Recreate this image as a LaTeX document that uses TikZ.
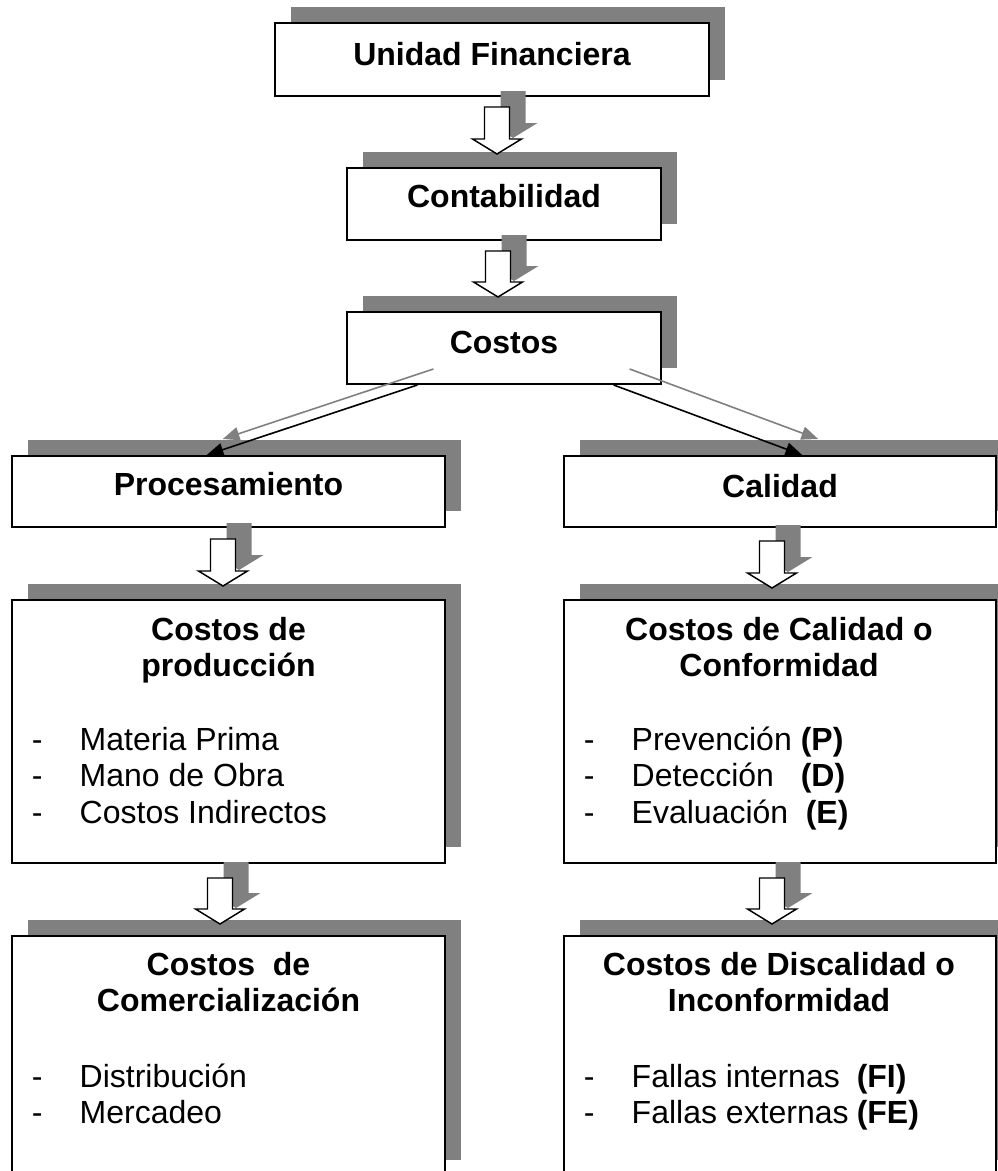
\documentclass[tikz,border=0pt]{standalone}
\usepackage{fontspec}
\setmainfont{Liberation Sans}
\usetikzlibrary{calc,shadows,arrows.meta}
\definecolor{shadowgray}{RGB}{128,128,128}
% hollow block arrow pointing down: #1 style, #2 top of shaft, #3 tip,
% #4 offset of the whole arrow (used for its shadow)
\newcommand\blockarrow[4]{%
  \path[#1] let \p1=($(#2)+#4$), \p2=($(#3)+#4$) in
    (\x1-9.375pt,\y1) -- (\x1+9.375pt,\y1) -- (\x1+9.375pt,\y2+11.25pt)
    -- (\x1+18.375pt,\y2+11.25pt) -- (\x1,\y2) -- (\x1-18.375pt,\y2+11.25pt)
    -- (\x1-9.375pt,\y2+11.25pt) -- cycle;}
\begin{document}
\begin{tikzpicture}[x=0.75pt,y=-0.75pt,
  box/.style={draw=black, line width=1.5pt, fill=white, inner sep=0pt,
    drop shadow={shadow xshift=12pt, shadow yshift=12pt, opacity=1, fill=shadowgray}},
  wideL/.style={minimum width=324.75pt},
  wideR/.style={minimum width=324pt},
  lbl/.style={inner sep=0pt, font=\fontsize{24}{27.5}\selectfont},
  title/.style={inner sep=0pt, font=\fontsize{24}{27.5}\selectfont\bfseries},
  barrow/.style={draw=black, fill=white, line width=1.1pt, line join=miter},
  barrowshadow/.style={fill=shadowgray},
  link/.style={draw=black, line width=1.2pt, -{Triangle[length=12.5pt,width=10pt]}},
  linkshadow/.style={draw=shadowgray, line width=1.2pt, -{Triangle[length=12.5pt,width=10pt]}}]
\clip (0,0) rectangle (998,1171);
\fill[white] (0,0) rectangle (998,1171);

% boxes
\node[box, minimum width=325.5pt, minimum height=54.75pt] (unidad) at (492,59.5) {};
\node[box, minimum width=235.5pt, minimum height=54pt] (contab) at (504,204) {};
\node[box, minimum width=235.5pt, minimum height=54pt] (costos) at (504,348) {};
\node[box, wideL, minimum height=53.25pt] (proc) at (228.5,491.5) {};
\node[box, wideR, minimum height=53.25pt] (calidad) at (780,491.5) {};
\node[box, wideL, minimum height=197.25pt] (prod) at (228.5,731.5) {};
\node[box, wideR, minimum height=197.25pt] (conf) at (780,731.5) {};
\node[box, wideL, minimum height=180pt] (comer) at (228.5,1056) {};
\node[box, wideR, minimum height=180pt] (discal) at (780,1056) {};

% block arrow end points
\coordinate (a1t) at ($(unidad.south)+(5,10)$);
\coordinate (a1b) at ($(a1t |- contab.north)+(0,-13)$);
\coordinate (a2t) at ($(contab.south)+(-6,10)$);
\coordinate (a2b) at ($(a2t |- costos.north)+(0,-14)$);
\coordinate (a3t) at ($(proc.south)+(-5.5,11)$);
\coordinate (a3b) at ($(a3t |- prod.north)+(0,-13)$);
\coordinate (a4t) at ($(prod.south)+(-8.5,14)$);
\coordinate (a4b) at ($(a4t |- comer.north)+(0,-11)$);
\coordinate (a5t) at ($(calidad.south)+(-8,13)$);
\coordinate (a5b) at ($(a5t |- conf.north)+(0,-11)$);
\coordinate (a6t) at ($(conf.south)+(-8,14)$);
\coordinate (a6b) at ($(a6t |- discal.north)+(0,-11)$);

% slanted links from Costos
\coordinate (s1) at ($(costos.south west)!0.226!(costos.south east)$);
\coordinate (e1) at ($(proc.north west)!0.45!(proc.north east)$);
\coordinate (s2) at ($(costos.south west)!0.847!(costos.south east)$);
\coordinate (e2) at ($(calidad.north west)!0.551!(calidad.north east)$);

% shadows of the connectors
\foreach \a in {1,...,6}{\blockarrow{barrowshadow}{a\a t}{a\a b}{(16,-16)}}
\draw[linkshadow] ($(s1)+(16,-16)$) -- ($(e1)+(16,-16)$);
\draw[linkshadow] ($(s2)+(16,-16)$) -- ($(e2)+(16,-16)$);

% connectors
\foreach \a in {1,...,6}{\blockarrow{barrow}{a\a t}{a\a b}{(0,0)}}
\draw[link] (s1) -- (e1);
\draw[link] (s2) -- (e2);

% single-line labels
\node[title, anchor=base] (tUnidad) at ($(unidad.center)+(0,5.5)$) {Unidad Financiera};
\node[title, anchor=base] (tContab) at ($(contab.center)+(0,3)$) {Contabilidad};
\node[title, anchor=base] (tCostos) at ($(costos.center)+(0,5)$) {Costos};
\node[title, anchor=base] (tProc) at ($(proc.center)+(0,3.5)$) {Procesamiento};
\node[title, anchor=base] (tCalidad) at ($(calidad.center)+(0,5.5)$) {Calidad};

% production costs
\node[title, anchor=base] (tProd) at (228.5,640)
  {\begin{tabular}[t]{@{}c@{}}Costos de\\ producción\end{tabular}};
\node[lbl, anchor=base west] (lProd) at (31.5,750)
  {\begin{tabular}[t]{@{}l@{}}
   \makebox[36pt][l]{-}Materia Prima\\
   \makebox[36pt][l]{-}Mano de Obra\\
   \makebox[36pt][l]{-}Costos Indirectos
   \end{tabular}};

% conformity costs
\node[title, anchor=base] (tConf) at (779,640)
  {\begin{tabular}[t]{@{}c@{}}Costos de Calidad o\\ Conformidad\end{tabular}};
\node[lbl, anchor=base west] (lConf) at (583.5,750)
  {\begin{tabular}[t]{@{}l@{}}
   \makebox[36pt][l]{-}\makebox[126.75pt][l]{Prevención}\textbf{(P)}\\
   \makebox[36pt][l]{-}\makebox[126.75pt][l]{Detección}\textbf{(D)}\\
   \makebox[36pt][l]{-}\makebox[130.5pt][l]{Evaluación}\textbf{(E)}
   \end{tabular}};

% marketing costs
\node[title, anchor=base] (tComer) at (228.5,975)
  {\begin{tabular}[t]{@{}c@{}}Costos\ \ de\\ Comercialización\end{tabular}};
\node[lbl, anchor=base west] (lComer) at (31.5,1087)
  {\begin{tabular}[t]{@{}l@{}}
   \makebox[36pt][l]{-}Distribución\\
   \makebox[36pt][l]{-}Mercadeo
   \end{tabular}};

% non-conformity costs
\node[title, anchor=base] (tDiscal) at (779,975)
  {\begin{tabular}[t]{@{}c@{}}Costos de Discalidad o\\ Inconformidad\end{tabular}};
\node[lbl, anchor=base west] (lDiscal) at (583.5,1087)
  {\begin{tabular}[t]{@{}l@{}}
   \makebox[36pt][l]{-}\makebox[168.75pt][l]{Fallas internas}\textbf{(FI)}\\
   \makebox[36pt][l]{-}\makebox[168.75pt][l]{Fallas externas}\textbf{(FE)}
   \end{tabular}};
\end{tikzpicture}
\end{document}
